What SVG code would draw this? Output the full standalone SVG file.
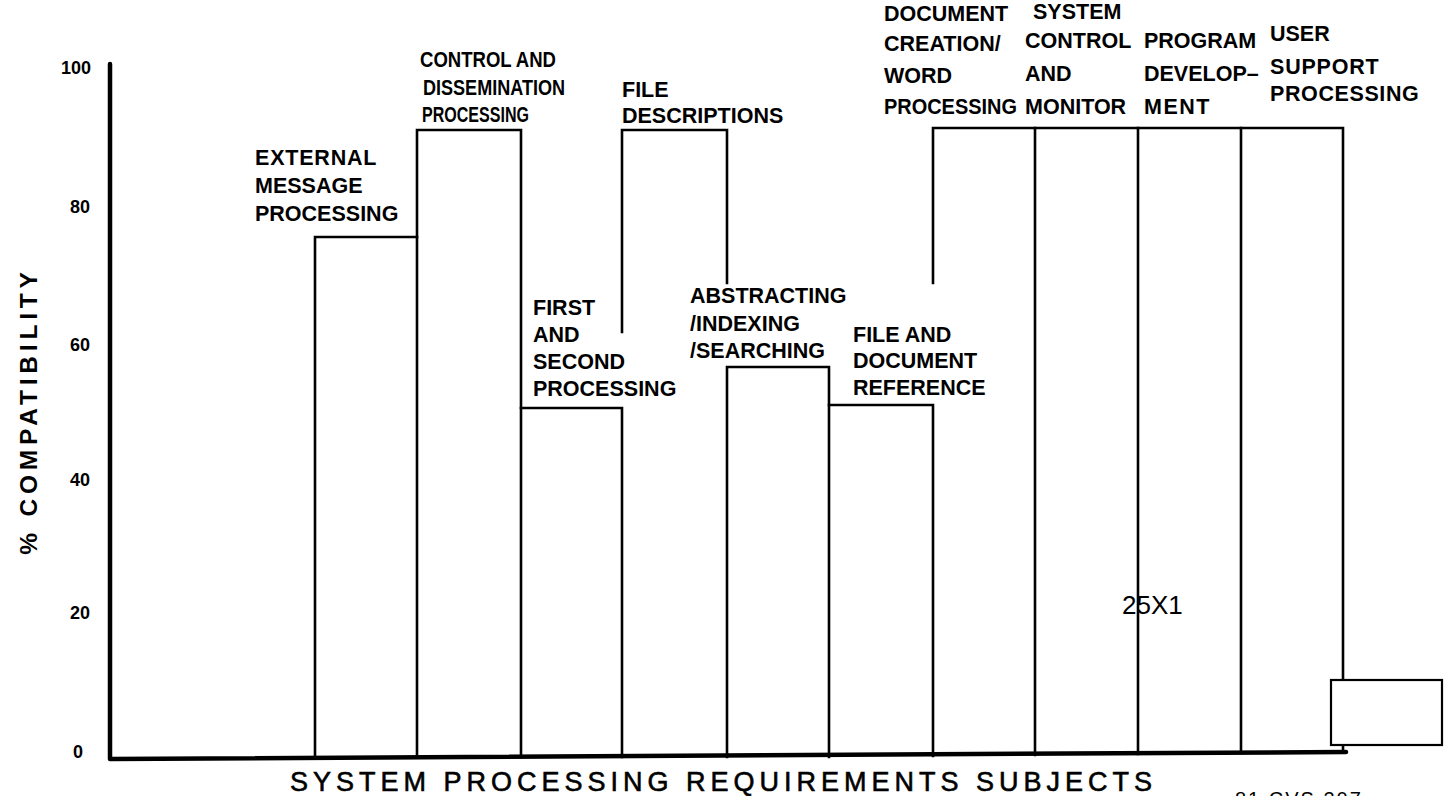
<svg xmlns="http://www.w3.org/2000/svg" width="1450" height="796" viewBox="0 0 1450 796">
<style>
.bg{fill:#fff}
.bar{fill:none;stroke:#000;stroke-width:2.6;stroke-linecap:square}
.axis{fill:none;stroke:#000;stroke-width:4.5;stroke-linecap:round;stroke-linejoin:round}
.lbl{font-family:"Liberation Sans",Arial,sans-serif;font-weight:bold;font-size:21.5px;fill:#000}
.tick{font-family:"Liberation Sans",Arial,sans-serif;font-weight:bold;font-size:18px;fill:#000}
.title{font-family:"Liberation Sans",Arial,sans-serif;font-size:27px;letter-spacing:5px;fill:#000;stroke:#000;stroke-width:0.6px}
.ytitle{font-family:"Liberation Sans",Arial,sans-serif;font-weight:bold;font-size:24.5px;letter-spacing:4.8px;fill:#000}
.stamp{font-family:"Liberation Sans",Arial,sans-serif;font-size:26px;fill:#000}
.ref{font-family:"Liberation Sans",Arial,sans-serif;font-size:20px;letter-spacing:2px;fill:#000}
</style>
<rect class="bg" x="0" y="0" width="1450" height="796"/>

<g id="axes">
<path class="axis" d="M110,64 L110,759 L1346,752"/>
<g id="y-ticks">
<text class="tick" x="91" y="74" text-anchor="end">100</text>
<text class="tick" x="90" y="213" text-anchor="end">80</text>
<text class="tick" x="90" y="351" text-anchor="end">60</text>
<text class="tick" x="90" y="486" text-anchor="end">40</text>
<text class="tick" x="90" y="619" text-anchor="end">20</text>
<text class="tick" x="73" y="758">0</text>
</g>
<text class="ytitle" transform="translate(37,411) rotate(-90)" text-anchor="middle">% COMPATIBILITY</text>
<text class="title" x="290" y="791">SYSTEM PROCESSING REQUIREMENTS SUBJECTS</text>
</g>

<g id="bars">
<g id="bar-external">
<path class="bar" d="M315,757 L315,237 L417,237"/>
<text class="lbl" x="255" y="165" letter-spacing="0.8">EXTERNAL</text>
<text class="lbl" x="255" y="193">MESSAGE</text>
<text class="lbl" x="255" y="221">PROCESSING</text>
</g>
<g id="bar-control">
<path class="bar" d="M417,757 L417,130 L521,130 L521,757"/>
<text class="lbl" x="420" y="67" textLength="136" lengthAdjust="spacingAndGlyphs">CONTROL AND</text>
<text class="lbl" x="423" y="95" textLength="142" lengthAdjust="spacingAndGlyphs">DISSEMINATION</text>
<text class="lbl" x="422" y="122" textLength="107" lengthAdjust="spacingAndGlyphs">PROCESSING</text>
</g>
<g id="bar-first">
<path class="bar" d="M521,408 L622,408 L622,757"/>
<text class="lbl" x="533" y="315">FIRST</text>
<text class="lbl" x="533" y="342">AND</text>
<text class="lbl" x="533" y="369">SECOND</text>
<text class="lbl" x="533" y="396">PROCESSING</text>
</g>
<g id="bar-file-descriptions">
<path class="bar" d="M622,332 L622,130 L727,130 L727,283"/>
<text class="lbl" x="622" y="97">FILE</text>
<text class="lbl" x="622" y="123">DESCRIPTIONS</text>
</g>
<g id="bar-abstracting">
<path class="bar" d="M727,757 L727,367 L829,367 L829,757"/>
<text class="lbl" x="690" y="303">ABSTRACTING</text>
<text class="lbl" x="690" y="331">/INDEXING</text>
<text class="lbl" x="690" y="358">/SEARCHING</text>
</g>
<g id="bar-file-document">
<path class="bar" d="M829,405 L933,405 L933,756"/>
<text class="lbl" x="853" y="342">FILE AND</text>
<text class="lbl" x="853" y="368">DOCUMENT</text>
<text class="lbl" x="853" y="395">REFERENCE</text>
</g>
<g id="bar-document-creation">
<path class="bar" d="M933,283 L933,128 L1035,128 L1035,755"/>
<text class="lbl" x="884" y="21">DOCUMENT</text>
<text class="lbl" x="884" y="51">CREATION/</text>
<text class="lbl" x="884" y="83">WORD</text>
<text class="lbl" x="884" y="114" textLength="133" lengthAdjust="spacingAndGlyphs">PROCESSING</text>
</g>
<g id="bar-system-control">
<path class="bar" d="M1035,128 L1138,128 L1138,754"/>
<text class="lbl" x="1033" y="19">SYSTEM</text>
<text class="lbl" x="1025" y="48">CONTROL</text>
<text class="lbl" x="1025" y="81">AND</text>
<text class="lbl" x="1025" y="114">MONITOR</text>
</g>
<g id="bar-program">
<path class="bar" d="M1138,128 L1241,128 L1241,753"/>
<text class="lbl" x="1144" y="48">PROGRAM</text>
<text class="lbl" x="1144" y="81">DEVELOP–</text>
<text class="lbl" x="1144" y="114" letter-spacing="1.5">MENT</text>
</g>
<g id="bar-user-support">
<path class="bar" d="M1241,128 L1343,128 L1343,680"/>
<path class="bar" d="M1343,745 L1343,752"/>
<text class="lbl" x="1270" y="41">USER</text>
<text class="lbl" x="1270" y="74" letter-spacing="0.8">SUPPORT</text>
<text class="lbl" x="1270" y="101" letter-spacing="0.6">PROCESSING</text>
</g>
</g>

<g id="marks">
<rect x="1331" y="680" width="111" height="65" fill="#fff" stroke="#000" stroke-width="2.2"/>
<text class="stamp" x="1122" y="614">25X1</text>
<text class="ref" x="1235" y="806">81 CVS 207</text>
</g>
</svg>
